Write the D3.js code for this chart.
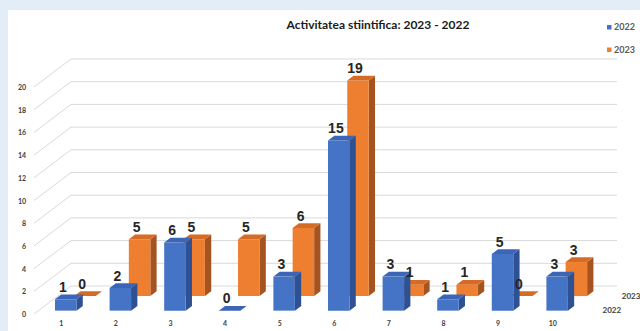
<!DOCTYPE html>
<html>
<head>
<meta charset="utf-8">
<script src="https://cdn.jsdelivr.net/npm/d3@7"></script>
<style>
  html, body { margin: 0; padding: 0; background: #ffffff; }
  svg { display: block; }
</style>
</head>
<body>
<svg id="chart" width="640" height="331"></svg>
<script>
// Activity counts per item, two years
const categories = ["1", "2", "3", "4", "5", "6", "7", "8", "9", "10"];
const seriesNames = ["2022", "2023"];
const values2022 = [1, 2, 6, 0, 3, 15, 3, 1, 5, 3];
const values2023 = [0, 5, 5, 5, 6, 19, 1, 1, 0, 3];
const valueTicks = [0, 2, 4, 6, 8, 10, 12, 14, 16, 18, 20];
const titleText = "Activitatea stiintifica: 2023 - 2022";

const W = 640, H = 331;
const svg = d3.select("#chart");

// page backdrop and white chart panel
svg.append("rect").attr("width", W).attr("height", H).attr("fill", "#e3edf7");
svg.append("rect").attr("x", 8).attr("y", 10).attr("width", W - 8).attr("height", H - 10).attr("fill", "#ffffff");

// oblique 3D projection: category axis in front plane, value axis up, depth goes up-right
const x = d3.scaleBand().domain(categories).range([34, 580]);
const y = d3.scaleLinear().domain([0, 20]).range([314, 314 - 20 * 11.35]);
const depthX = d3.scaleLinear().domain([0, 1]).range([0, 37]);
const depthY = d3.scaleLinear().domain([0, 1]).range([0, -28]);
const depthPos = d3.scalePoint().domain(seriesNames).range([0.12, 0.64]);
const barDepth = 0.17;
const barWidth = 21.5;

function proj(xf, v, d) {
  return [xf + depthX(d), y(v) + depthY(d)];
}

// gridlines on back wall and left side wall
const grid = svg.append("g").attr("stroke", "#d9d9d9").attr("stroke-width", 1).attr("fill", "none");
const xL = x.range()[0], xR = x.range()[1];
valueTicks.forEach(v => {
  const a = proj(xL, v, 0), b = proj(xL, v, 1), c = proj(xR, v, 1);
  grid.append("path").attr("d", `M${a[0]},${a[1]}L${b[0]},${b[1]}L${c[0]},${c[1]}`);
});

// value axis labels
svg.append("g").selectAll("text").data(valueTicks).join("text")
  .attr("x", 26).attr("y", v => y(v) + 3)
  .attr("text-anchor", "end")
  .attr("font-family", "Lato, 'Open Sans', sans-serif")
  .attr("font-weight", "bold").attr("font-size", 7).attr("fill", "#404040")
  .text(v => v);

// category labels
svg.append("g").selectAll("text").data(categories).join("text")
  .attr("x", c => x(c) + x.bandwidth() / 2).attr("y", 326)
  .attr("text-anchor", "middle")
  .attr("font-family", "Lato, 'Open Sans', sans-serif")
  .attr("font-weight", "bold").attr("font-size", 7).attr("fill", "#404040")
  .text(c => c);

const palette = {
  "2022": { front: "#4573c6", side: "#2d5193", top: "#3b66b8" },
  "2023": { front: "#ef7f30", side: "#a5541f", top: "#d56b25" }
};

const poly = pts => "M" + pts.map(p => p.join(",")).join("L") + "Z";

// draw back series first so front series overlaps it
const seriesData = [
  { name: "2023", values: values2023 },
  { name: "2022", values: values2022 }
];

const barsG = svg.append("g");
seriesData.forEach(s => {
  const col = palette[s.name];
  const d0 = depthPos(s.name), d1 = d0 + barDepth;
  const g = barsG.append("g");
  categories.forEach((c, i) => {
    const v = s.values[i];
    const cx = x(c) + x.bandwidth() / 2;
    const l = cx - barWidth / 2, r = cx + barWidth / 2;
    // side face
    g.append("path").attr("fill", col.side)
      .attr("d", poly([proj(r, 0, d0), proj(r, 0, d1), proj(r, v, d1), proj(r, v, d0)]));
    // front face
    g.append("path").attr("fill", col.front)
      .attr("d", poly([proj(l, 0, d0), proj(r, 0, d0), proj(r, v, d0), proj(l, v, d0)]));
    // top face
    g.append("path").attr("fill", col.top)
      .attr("d", poly([proj(l, v, d0), proj(r, v, d0), proj(r, v, d1), proj(l, v, d1)]));
  });
});

// value labels above each bar
const labelsG = svg.append("g");
seriesData.forEach(s => {
  const dm = depthPos(s.name) + barDepth / 2;
  categories.forEach((c, i) => {
    const v = s.values[i];
    const cx = x(c) + x.bandwidth() / 2;
    const p = proj(cx, v, dm);
    labelsG.append("text")
      .attr("x", p[0] - 6).attr("y", p[1] - 5)
      .attr("text-anchor", "middle")
      .attr("font-family", "'Liberation Sans', Arial, sans-serif")
      .attr("font-weight", "bold").attr("font-size", 14).attr("fill", "#262626")
      .text(v);
  });
});

// depth axis (series) labels at the right of the floor
svg.append("g").selectAll("text").data(seriesNames).join("text")
  .attr("x", n => proj(xR, 0, depthPos(n) + barDepth / 2)[0] + 15)
  .attr("y", n => proj(xR, 0, depthPos(n) + barDepth / 2)[1] + 5)
  .attr("font-family", "Lato, 'Open Sans', sans-serif")
  .attr("font-weight", "bold").attr("font-size", 8).attr("fill", "#404040")
  .text(n => n);

// title
svg.append("text")
  .attr("x", 378).attr("y", 29)
  .attr("text-anchor", "middle")
  .attr("font-family", "Lato, 'Open Sans', sans-serif")
  .attr("font-weight", "bold").attr("font-size", 12).attr("fill", "#1a1a1a")
  .text(titleText);

// legend
const legend = svg.append("g").attr("transform", "translate(607,25)");
seriesNames.forEach((n, i) => {
  const row = legend.append("g").attr("transform", `translate(0,${i * 22.5})`);
  row.append("rect").attr("width", 4.5).attr("height", 4.5).attr("fill", palette[n].front);
  row.append("text").attr("x", 7).attr("y", 5)
    .attr("font-family", "Lato, 'Open Sans', sans-serif")
    .attr("font-weight", "bold")
    .attr("font-size", 9).attr("fill", "#595959")
    .text(n);
});
</script>
</body>
</html>
